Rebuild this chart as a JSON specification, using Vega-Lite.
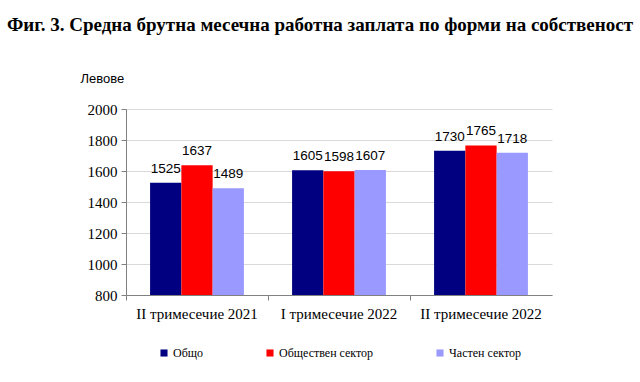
{
  "$schema": "https://vega.github.io/schema/vega-lite/v6.json",
  "autosize": "none",
  "width": 426,
  "height": 186,
  "padding": {"left": 126, "top": 109, "right": 88, "bottom": 87},
  "background": "white",
  "title": {
    "text": "Фиг. 3. Средна брутна месечна работна заплата по форми на собственост",
    "font": "Liberation Serif",
    "fontSize": 19,
    "fontWeight": "bold",
    "color": "#000000",
    "anchor": "middle",
    "dx": -19,
    "offset": 37
  },
  "config": {"view": {"stroke": null}},
  "data": {
    "values": [
      {"period": "II тримесечие 2021", "series": "Общо", "value": 1525},
      {"period": "II тримесечие 2021", "series": "Обществен сектор", "value": 1637},
      {"period": "II тримесечие 2021", "series": "Частен сектор", "value": 1489},
      {"period": "I тримесечие 2022", "series": "Общо", "value": 1605},
      {"period": "I тримесечие 2022", "series": "Обществен сектор", "value": 1598},
      {"period": "I тримесечие 2022", "series": "Частен сектор", "value": 1607},
      {"period": "II тримесечие 2022", "series": "Общо", "value": 1730},
      {"period": "II тримесечие 2022", "series": "Обществен сектор", "value": 1765},
      {"period": "II тримесечие 2022", "series": "Частен сектор", "value": 1718}
    ]
  },
  "encoding": {
    "x": {
      "field": "period",
      "type": "nominal",
      "sort": null,
      "scale": {"paddingInner": 0, "paddingOuter": 0},
      "axis": {
        "title": null,
        "labelAngle": 0,
        "bandPosition": 0,
        "labelFont": "Liberation Serif",
        "labelFontSize": 15,
        "labelColor": "#000000",
        "labelPadding": 6,
        "domainColor": "#808080",
        "tickColor": "#808080",
        "tickSize": 5,
        "grid": false,
        "labelBound": false
      }
    },
    "xOffset": {
      "field": "series",
      "type": "nominal",
      "sort": ["Общо", "Обществен сектор", "Частен сектор"],
      "scale": {"paddingInner": 0, "paddingOuter": 0.77}
    },
    "y": {
      "field": "value",
      "type": "quantitative",
      "scale": {"domain": [800, 2000], "zero": false, "nice": false},
      "axis": {
        "values": [800, 1000, 1200, 1400, 1600, 1800, 2000],
        "format": "d",
        "title": "Левове",
        "titleAngle": 0,
        "titleX": -46,
        "titleY": -31,
        "titleAlign": "left",
        "titleBaseline": "middle",
        "titleFont": "Liberation Sans",
        "titleFontSize": 13,
        "titleFontWeight": "normal",
        "titleColor": "#000000",
        "labelFont": "Liberation Serif",
        "labelFontSize": 15,
        "labelColor": "#000000",
        "labelPadding": 4,
        "domainColor": "#808080",
        "tickColor": "#808080",
        "tickSize": 5,
        "gridColor": "#d9d9d9",
        "gridWidth": 1
      }
    },
    "color": {
      "field": "series",
      "type": "nominal",
      "sort": ["Общо", "Обществен сектор", "Частен сектор"],
      "scale": {"domain": ["Общо", "Обществен сектор", "Частен сектор"], "range": ["#000080", "#ff0000", "#9999ff"]},
      "legend": {
        "title": null,
        "orient": "none",
        "direction": "horizontal",
        "legendX": 32,
        "legendY": 238,
        "symbolType": "square",
        "symbolSize": 50,
        "symbolStrokeWidth": 0,
        "labelFont": "Liberation Serif",
        "labelFontSize": 12,
        "labelColor": "#000000",
        "labelOffset": 3,
        "columnPadding": 60
      }
    }
  },
  "layer": [
    {"mark": {"type": "bar", "width": {"band": 1}, "clip": true}},
    {
      "mark": {"type": "text", "baseline": "bottom", "dy": -7, "font": "Liberation Sans", "fontSize": 13.5, "color": "#000000"},
      "encoding": {"text": {"field": "value", "type": "quantitative", "format": "d"}, "color": {"value": "#000000"}}
    }
  ]
}
